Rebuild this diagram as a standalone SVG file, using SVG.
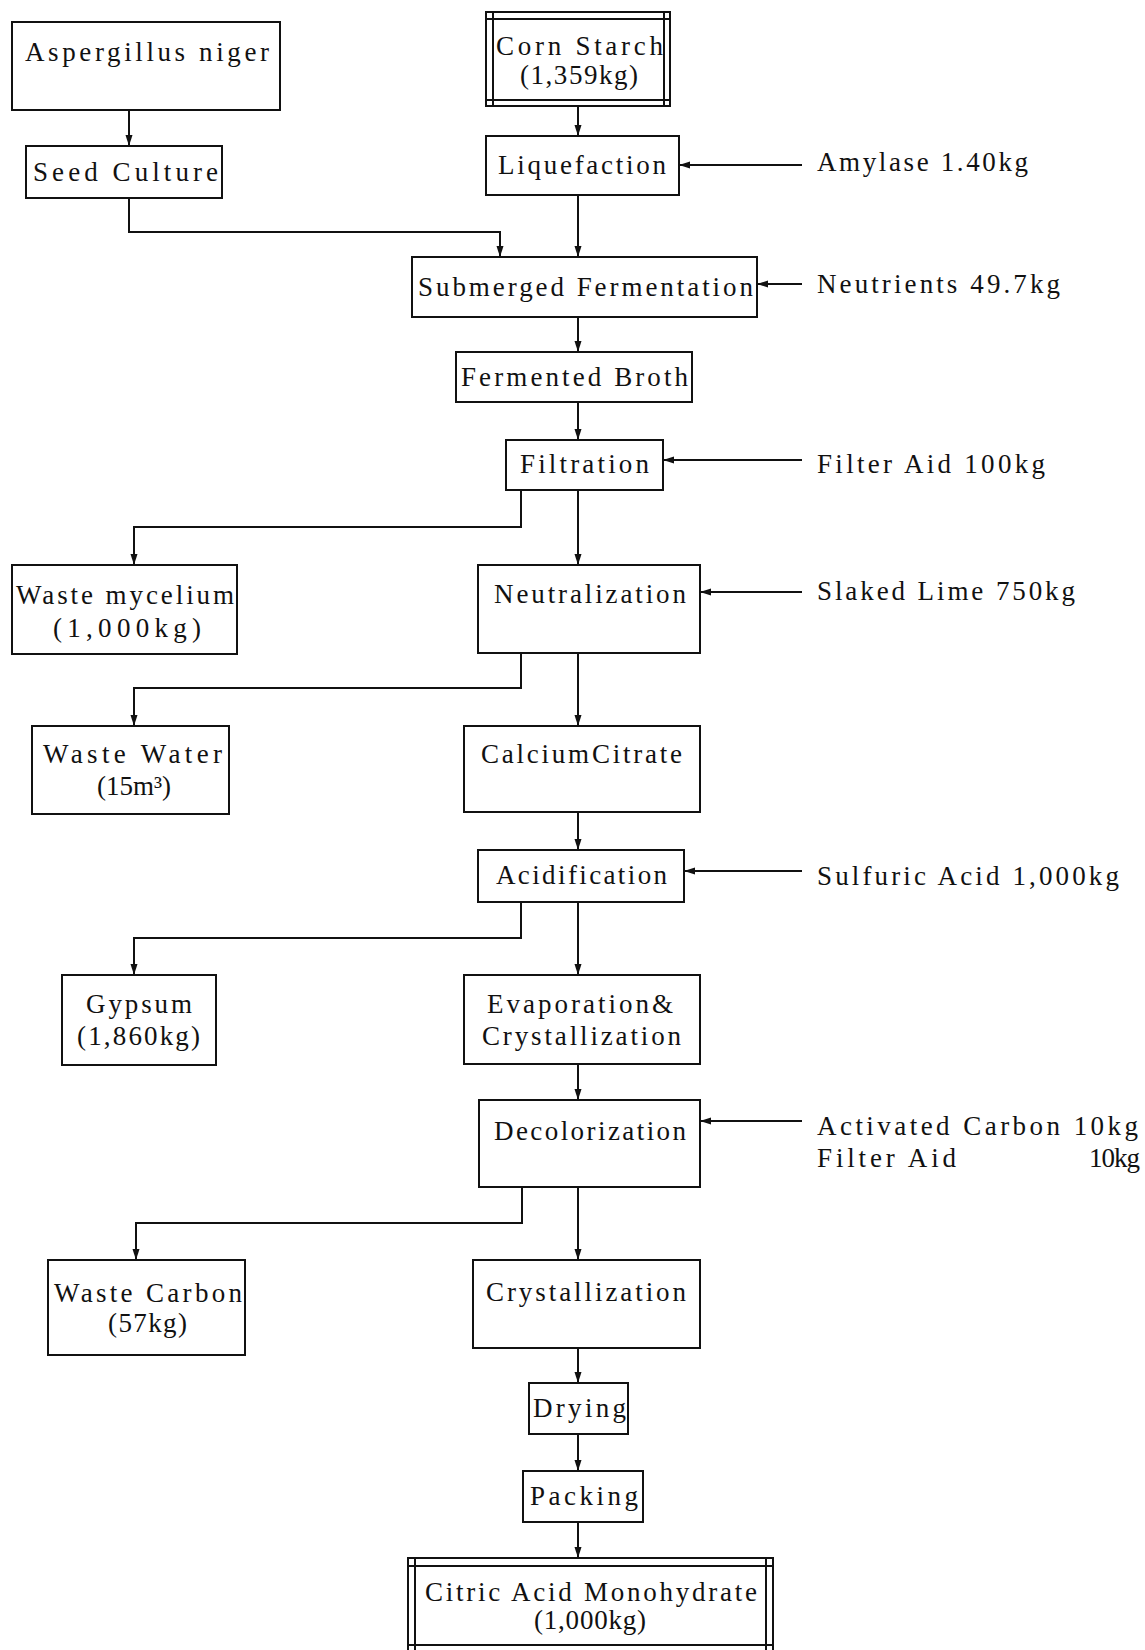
<svg xmlns="http://www.w3.org/2000/svg" width="1145" height="1650" viewBox="0 0 1145 1650">
<style>
.box{fill:#fff;stroke:#111;stroke-width:2}
.ln{fill:none;stroke:#111;stroke-width:2}
.t{font-family:"Liberation Serif","DejaVu Serif",serif;font-size:27px;fill:#111}
.c{fill:none;stroke:#111;stroke-width:2;marker-end:url(#ah)}
</style>
<defs>
<marker id="ah" markerUnits="userSpaceOnUse" markerWidth="11" markerHeight="8" refX="11" refY="4" orient="auto">
<path d="M0,0.5 L11,4 L0,7.5 z" fill="#111"/>
</marker>
</defs>
<rect width="1145" height="1650" fill="#fff"/>
<g id="connectors">
<path class="c" d="M129,110 V146"/>
<path class="c" d="M129,198 V232 H500 V257"/>
<path class="c" d="M578,106 V136"/>
<path class="c" d="M578,195 V257"/>
<path class="c" d="M578,317 V352"/>
<path class="c" d="M578,402 V440"/>
<path class="c" d="M578,490 V565"/>
<path class="c" d="M521,490 V527 H134 V565"/>
<path class="c" d="M578,653 V726"/>
<path class="c" d="M521,653 V688 H134 V726"/>
<path class="c" d="M578,812 V850"/>
<path class="c" d="M578,902 V975"/>
<path class="c" d="M521,902 V938 H134 V975"/>
<path class="c" d="M578,1064 V1100"/>
<path class="c" d="M578,1187 V1260"/>
<path class="c" d="M522,1187 V1223 H136 V1260"/>
<path class="c" d="M578,1348 V1383"/>
<path class="c" d="M578,1434 V1471"/>
<path class="c" d="M578,1522 V1558"/>
<path class="c" d="M802,165 H679"/>
<path class="c" d="M802,284 H757"/>
<path class="c" d="M802,460 H663"/>
<path class="c" d="M802,592 H700"/>
<path class="c" d="M802,871 H684"/>
<path class="c" d="M802,1121 H700"/>
</g>
<g id="aspergillus"><rect class="box" x="12" y="22" width="268" height="88"/><text class="t" x="25" y="61" textLength="244" lengthAdjust="spacing">Aspergillus niger</text></g>
<g id="seed-culture"><rect class="box" x="26" y="146" width="196" height="52"/><text class="t" x="33" y="181" textLength="185" lengthAdjust="spacing">Seed Culture</text></g>
<g id="corn-starch"><rect class="box" x="486" y="12" width="184" height="94"/><path class="ln" d="M486,19 H670 M486,100 H670 M493,12 V106 M664,12 V106"/><text class="t" x="496" y="55" textLength="167" lengthAdjust="spacing">Corn Starch</text><text class="t" x="520" y="84" textLength="118" lengthAdjust="spacing">(1,359kg)</text></g>
<g id="liquefaction"><rect class="box" x="486" y="136" width="193" height="59"/><text class="t" x="498" y="174" textLength="168" lengthAdjust="spacing">Liquefaction</text></g>
<g id="submerged-fermentation"><rect class="box" x="412" y="257" width="345" height="60"/><text class="t" x="418" y="296" textLength="335" lengthAdjust="spacing">Submerged Fermentation</text></g>
<g id="fermented-broth"><rect class="box" x="456" y="352" width="236" height="50"/><text class="t" x="461" y="386" textLength="227" lengthAdjust="spacing">Fermented Broth</text></g>
<g id="filtration"><rect class="box" x="506" y="440" width="157" height="50"/><text class="t" x="520" y="473" textLength="129" lengthAdjust="spacing">Filtration</text></g>
<g id="waste-mycelium"><rect class="box" x="12" y="565" width="225" height="89"/><text class="t" x="16" y="604" textLength="218" lengthAdjust="spacing">Waste mycelium</text><text class="t" x="53" y="637" textLength="148" lengthAdjust="spacing">(1,000kg)</text></g>
<g id="neutralization"><rect class="box" x="478" y="565" width="222" height="88"/><text class="t" x="494" y="603" textLength="192" lengthAdjust="spacing">Neutralization</text></g>
<g id="waste-water"><rect class="box" x="32" y="726" width="197" height="88"/><text class="t" x="43" y="763" textLength="179" lengthAdjust="spacing">Waste Water</text><text class="t" x="97" y="795" textLength="74" lengthAdjust="spacing">(15m³)</text></g>
<g id="calcium-citrate"><rect class="box" x="464" y="726" width="236" height="86"/><text class="t" x="481" y="763" textLength="201" lengthAdjust="spacing">CalciumCitrate</text></g>
<g id="acidification"><rect class="box" x="478" y="850" width="206" height="52"/><text class="t" x="496" y="884" textLength="171" lengthAdjust="spacing">Acidification</text></g>
<g id="gypsum"><rect class="box" x="62" y="975" width="154" height="90"/><text class="t" x="86" y="1013" textLength="106" lengthAdjust="spacing">Gypsum</text><text class="t" x="77" y="1045" textLength="123" lengthAdjust="spacing">(1,860kg)</text></g>
<g id="evaporation"><rect class="box" x="464" y="975" width="236" height="89"/><text class="t" x="487" y="1013" textLength="186" lengthAdjust="spacing">Evaporation&amp;</text><text class="t" x="482" y="1045" textLength="199" lengthAdjust="spacing">Crystallization</text></g>
<g id="decolorization"><rect class="box" x="479" y="1100" width="221" height="87"/><text class="t" x="494" y="1140" textLength="192" lengthAdjust="spacing">Decolorization</text></g>
<g id="waste-carbon"><rect class="box" x="48" y="1260" width="197" height="95"/><text class="t" x="54" y="1302" textLength="188" lengthAdjust="spacing">Waste Carbon</text><text class="t" x="108" y="1332" textLength="79" lengthAdjust="spacing">(57kg)</text></g>
<g id="crystallization"><rect class="box" x="473" y="1260" width="227" height="88"/><text class="t" x="486" y="1301" textLength="200" lengthAdjust="spacing">Crystallization</text></g>
<g id="drying"><rect class="box" x="529" y="1383" width="99" height="51"/><text class="t" x="533" y="1417" textLength="93" lengthAdjust="spacing">Drying</text></g>
<g id="packing"><rect class="box" x="523" y="1471" width="120" height="51"/><text class="t" x="530" y="1505" textLength="108" lengthAdjust="spacing">Packing</text></g>
<g id="citric-acid"><rect class="box" x="408" y="1558" width="365" height="98"/><path class="ln" d="M408,1566 H773 M408,1645 H773 M415,1558 V1650 M766,1558 V1650"/><text class="t" x="425" y="1601" textLength="332" lengthAdjust="spacing">Citric Acid Monohydrate</text><text class="t" x="534" y="1629" textLength="112" lengthAdjust="spacing">(1,000kg)</text></g>
<g id="inputs">
<text class="t" x="817" y="171" textLength="211" lengthAdjust="spacing">Amylase 1.40kg</text>
<text class="t" x="817" y="293" textLength="243" lengthAdjust="spacing">Neutrients 49.7kg</text>
<text class="t" x="817" y="473" textLength="228" lengthAdjust="spacing">Filter Aid 100kg</text>
<text class="t" x="817" y="600" textLength="258" lengthAdjust="spacing">Slaked Lime 750kg</text>
<text class="t" x="817" y="885" textLength="302" lengthAdjust="spacing">Sulfuric Acid 1,000kg</text>
<text class="t" x="817" y="1135" textLength="321" lengthAdjust="spacing">Activated Carbon 10kg</text>
<text class="t" y="1167"><tspan x="817" textLength="139" lengthAdjust="spacing">Filter Aid</tspan><tspan x="1089" textLength="51" lengthAdjust="spacing">10kg</tspan></text>
</g>
</svg>
